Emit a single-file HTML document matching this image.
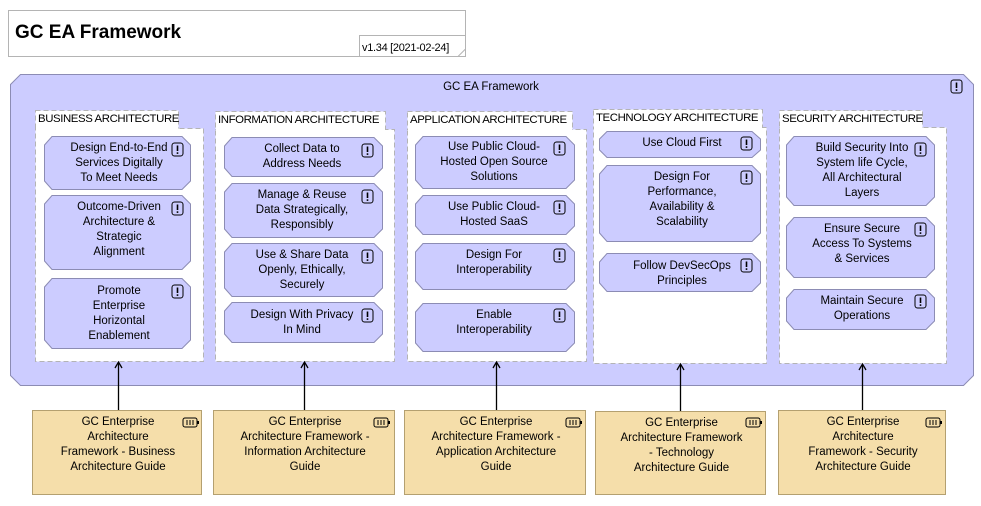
<!DOCTYPE html>
<html><head><meta charset="utf-8"><style>
body{margin:0;width:981px;height:506px;background:#fff;position:relative;overflow:hidden;font-family:"Liberation Sans",sans-serif;}
svg{position:absolute;left:0;top:0}
.t{position:absolute;font-size:11.5px;line-height:15px;text-align:center;color:#000;box-sizing:border-box;padding-right:16px;padding-left:4px;white-space:nowrap;margin-top:1px}
.tab{position:absolute;font-size:11.4px;line-height:16px;padding-left:3px;color:#000;white-space:nowrap;letter-spacing:-0.4px}
</style></head><body>
<svg width="981" height="506" viewBox="0 0 981 506">
<defs>
<g id="ex"><rect x="0" y="0" width="11" height="13" rx="2.5" fill="none" stroke="#000" stroke-width="1"/><line x1="5.5" y1="2.5" x2="5.5" y2="8" stroke="#000" stroke-width="1.6"/><rect x="4.7" y="9.3" width="1.6" height="1.6" fill="#000"/></g>
<g id="bat"><rect x="0" y="0" width="14" height="9" rx="2" fill="none" stroke="#000"/><rect x="14" y="3" width="2" height="3" fill="#000"/><line x1="4" y1="2" x2="4" y2="7" stroke="#000"/><line x1="7" y1="2" x2="7" y2="7" stroke="#000"/><line x1="10" y1="2" x2="10" y2="7" stroke="#000"/></g>
</defs>
<rect x="8.5" y="10.5" width="457" height="46" fill="#fff" stroke="#b4b4b4"/>
<polygon points="359.5,35.5 465.5,35.5 465.5,49 458,56.5 359.5,56.5" fill="#fff" stroke="#b4b4b4"/>
<text x="15" y="38" font-family="Liberation Sans" font-weight="bold" font-size="19">GC EA Framework</text>
<text x="362" y="51" font-family="Liberation Sans" font-size="11" letter-spacing="-0.3">v1.34 [2021-02-24]</text>
<polygon points="20.5,74.5 963.5,74.5 973.5,84.5 973.5,375.5 963.5,385.5 20.5,385.5 10.5,375.5 10.5,84.5" fill="#ccccff" stroke="#8c8cb4"/>
<text x="491" y="90" text-anchor="middle" font-family="Liberation Sans" font-size="11.5">GC EA Framework</text>
<use href="#ex" x="951" y="80"/>
<g fill="#fff" stroke="#b4b4b4" stroke-dasharray="5,3">
<rect x="35.5" y="110.5" width="143" height="18"/><rect x="35.5" y="128.5" width="168" height="233"/>
<rect x="215.5" y="111.5" width="170" height="18"/><rect x="215.5" y="129.5" width="179" height="232"/>
<rect x="407.5" y="111.5" width="165" height="18"/><rect x="407.5" y="129.5" width="179" height="232"/>
<rect x="593.5" y="109.5" width="169" height="18"/><rect x="593.5" y="127.5" width="173" height="236"/>
<rect x="779.5" y="110.5" width="143" height="17"/><rect x="779.5" y="127.5" width="167" height="236"/>
</g>
<g fill="#fff"><rect x="36" y="127" width="142" height="3"/><rect x="216" y="128" width="169" height="3"/><rect x="408" y="128" width="164" height="3"/><rect x="594" y="126" width="168" height="3"/><rect x="780" y="126" width="142" height="3"/></g>
<g fill="#ccccff" stroke="#8c8cb4">
<polygon points="52,136.5 182,136.5 190.5,145 190.5,181 182,189.5 52,189.5 44.5,181 44.5,145"/>
<polygon points="52,195.5 182,195.5 190.5,204 190.5,261 182,269.5 52,269.5 44.5,261 44.5,204"/>
<polygon points="52,278.5 182,278.5 190.5,287 190.5,340 182,348.5 52,348.5 44.5,340 44.5,287"/>
<polygon points="232,137.5 374,137.5 382.5,146 382.5,168 374,176.5 232,176.5 224.5,168 224.5,146"/>
<polygon points="232,183.5 374,183.5 382.5,192 382.5,229 374,237.5 232,237.5 224.5,229 224.5,192"/>
<polygon points="232,243.5 374,243.5 382.5,252 382.5,288 374,296.5 232,296.5 224.5,288 224.5,252"/>
<polygon points="232,302.5 374,302.5 382.5,311 382.5,334 374,342.5 232,342.5 224.5,334 224.5,311"/>
<polygon points="423,136.5 566,136.5 574.5,145 574.5,180 566,188.5 423,188.5 415.5,180 415.5,145"/>
<polygon points="423,195.5 566,195.5 574.5,204 574.5,226 566,234.5 423,234.5 415.5,226 415.5,204"/>
<polygon points="423,243.5 566,243.5 574.5,252 574.5,281 566,289.5 423,289.5 415.5,281 415.5,252"/>
<polygon points="423,303.5 566,303.5 574.5,312 574.5,343 566,351.5 423,351.5 415.5,343 415.5,312"/>
<polygon points="607,131.5 752,131.5 760.5,139 760.5,150 752,157.5 607,157.5 599.5,150 599.5,139"/>
<polygon points="607,165.5 752,165.5 760.5,174 760.5,233 752,241.5 607,241.5 599.5,233 599.5,174"/>
<polygon points="607,253.5 752,253.5 760.5,262 760.5,283 752,291.5 607,291.5 599.5,283 599.5,262"/>
<polygon points="794,136.5 926,136.5 934.5,145 934.5,197 926,205.5 794,205.5 786.5,197 786.5,145"/>
<polygon points="794,217.5 926,217.5 934.5,226 934.5,269 926,277.5 794,277.5 786.5,269 786.5,226"/>
<polygon points="794,289.5 926,289.5 934.5,298 934.5,321 926,329.5 794,329.5 786.5,321 786.5,298"/>
</g>
<use href="#ex" x="172" y="143"/><use href="#ex" x="172" y="202"/><use href="#ex" x="172" y="285"/>
<use href="#ex" x="362" y="144"/><use href="#ex" x="362" y="190"/><use href="#ex" x="362" y="250"/><use href="#ex" x="362" y="309"/>
<use href="#ex" x="554" y="142"/><use href="#ex" x="554" y="201"/><use href="#ex" x="554" y="249"/><use href="#ex" x="554" y="309"/>
<use href="#ex" x="741" y="137"/><use href="#ex" x="741" y="171"/><use href="#ex" x="741" y="259"/>
<use href="#ex" x="915" y="143"/><use href="#ex" x="915" y="223"/><use href="#ex" x="915" y="295"/>
<g fill="#f5deaa" stroke="#b4a070">
<rect x="32.5" y="410.5" width="169" height="84"/>
<rect x="213.5" y="410.5" width="181" height="84"/>
<rect x="404.5" y="410.5" width="181" height="84"/>
<rect x="595.5" y="411.5" width="170" height="83"/>
<rect x="778.5" y="410.5" width="167" height="84"/>
</g>
<use href="#bat" x="183" y="418"/><use href="#bat" x="374" y="418"/><use href="#bat" x="566" y="418"/><use href="#bat" x="746" y="418"/><use href="#bat" x="926" y="418"/>
<g stroke="#000" stroke-width="1.3" fill="none">
<line x1="118.5" y1="410" x2="118.5" y2="363"/><polyline points="115,368 118.5,362 122,368"/>
<line x1="304.5" y1="410" x2="304.5" y2="363"/><polyline points="301,368 304.5,362 308,368"/>
<line x1="496.5" y1="410" x2="496.5" y2="363"/><polyline points="493,368 496.5,362 500,368"/>
<line x1="680.5" y1="411" x2="680.5" y2="365"/><polyline points="677,370 680.5,364 684,370"/>
<line x1="862.5" y1="410" x2="862.5" y2="365"/><polyline points="859,370 862.5,364 866,370"/>
</g>
</svg>
<div class="tab" style="left:35px;top:111px">BUSINESS ARCHITECTURE</div>
<div class="tab" style="left:215px;top:112px">INFORMATION ARCHITECTURE</div>
<div class="tab" style="left:407px;top:112px">APPLICATION ARCHITECTURE</div>
<div class="tab" style="left:593px;top:110px">TECHNOLOGY ARCHITECTURE</div>
<div class="tab" style="left:779px;top:111px">SECURITY ARCHITECTURE</div>

<div class="t" style="left:44px;top:140px;width:162px">Design End-to-End<br>Services Digitally<br>To Meet Needs</div>
<div class="t" style="left:44px;top:199px;width:162px">Outcome-Driven<br>Architecture &amp;<br>Strategic<br>Alignment</div>
<div class="t" style="left:44px;top:283px;width:162px">Promote<br>Enterprise<br>Horizontal<br>Enablement</div>

<div class="t" style="left:224px;top:141px;width:168px">Collect Data to<br>Address Needs</div>
<div class="t" style="left:224px;top:187px;width:168px">Manage &amp; Reuse<br>Data Strategically,<br>Responsibly</div>
<div class="t" style="left:224px;top:247px;width:168px">Use &amp; Share Data<br>Openly, Ethically,<br>Securely</div>
<div class="t" style="left:224px;top:307px;width:168px">Design With Privacy<br>In Mind</div>

<div class="t" style="left:415px;top:139px;width:170px">Use Public Cloud-<br>Hosted Open Source<br>Solutions</div>
<div class="t" style="left:415px;top:199px;width:170px">Use Public Cloud-<br>Hosted SaaS</div>
<div class="t" style="left:415px;top:247px;width:170px">Design For<br>Interoperability</div>
<div class="t" style="left:415px;top:307px;width:170px">Enable<br>Interoperability</div>

<div class="t" style="left:599px;top:135px;width:178px">Use Cloud First</div>
<div class="t" style="left:599px;top:169px;width:178px">Design For<br>Performance,<br>Availability &amp;<br>Scalability</div>
<div class="t" style="left:599px;top:258px;width:178px">Follow DevSecOps<br>Principles</div>

<div class="t" style="left:786px;top:140px;width:164px">Build Security Into<br>System life Cycle,<br>All Architectural<br>Layers</div>
<div class="t" style="left:786px;top:221px;width:164px">Ensure Secure<br>Access To Systems<br>&amp; Services</div>
<div class="t" style="left:786px;top:293px;width:164px">Maintain Secure<br>Operations</div>

<div class="t" style="left:32px;top:414px;width:184px">GC Enterprise<br>Architecture<br>Framework - Business<br>Architecture Guide</div>
<div class="t" style="left:213px;top:414px;width:196px">GC Enterprise<br>Architecture Framework -<br>Information Architecture<br>Guide</div>
<div class="t" style="left:404px;top:414px;width:196px">GC Enterprise<br>Architecture Framework -<br>Application Architecture<br>Guide</div>
<div class="t" style="left:595px;top:415px;width:185px">GC Enterprise<br>Architecture Framework<br>- Technology<br>Architecture Guide</div>
<div class="t" style="left:778px;top:414px;width:182px">GC Enterprise<br>Architecture<br>Framework - Security<br>Architecture Guide</div>
</body></html>
